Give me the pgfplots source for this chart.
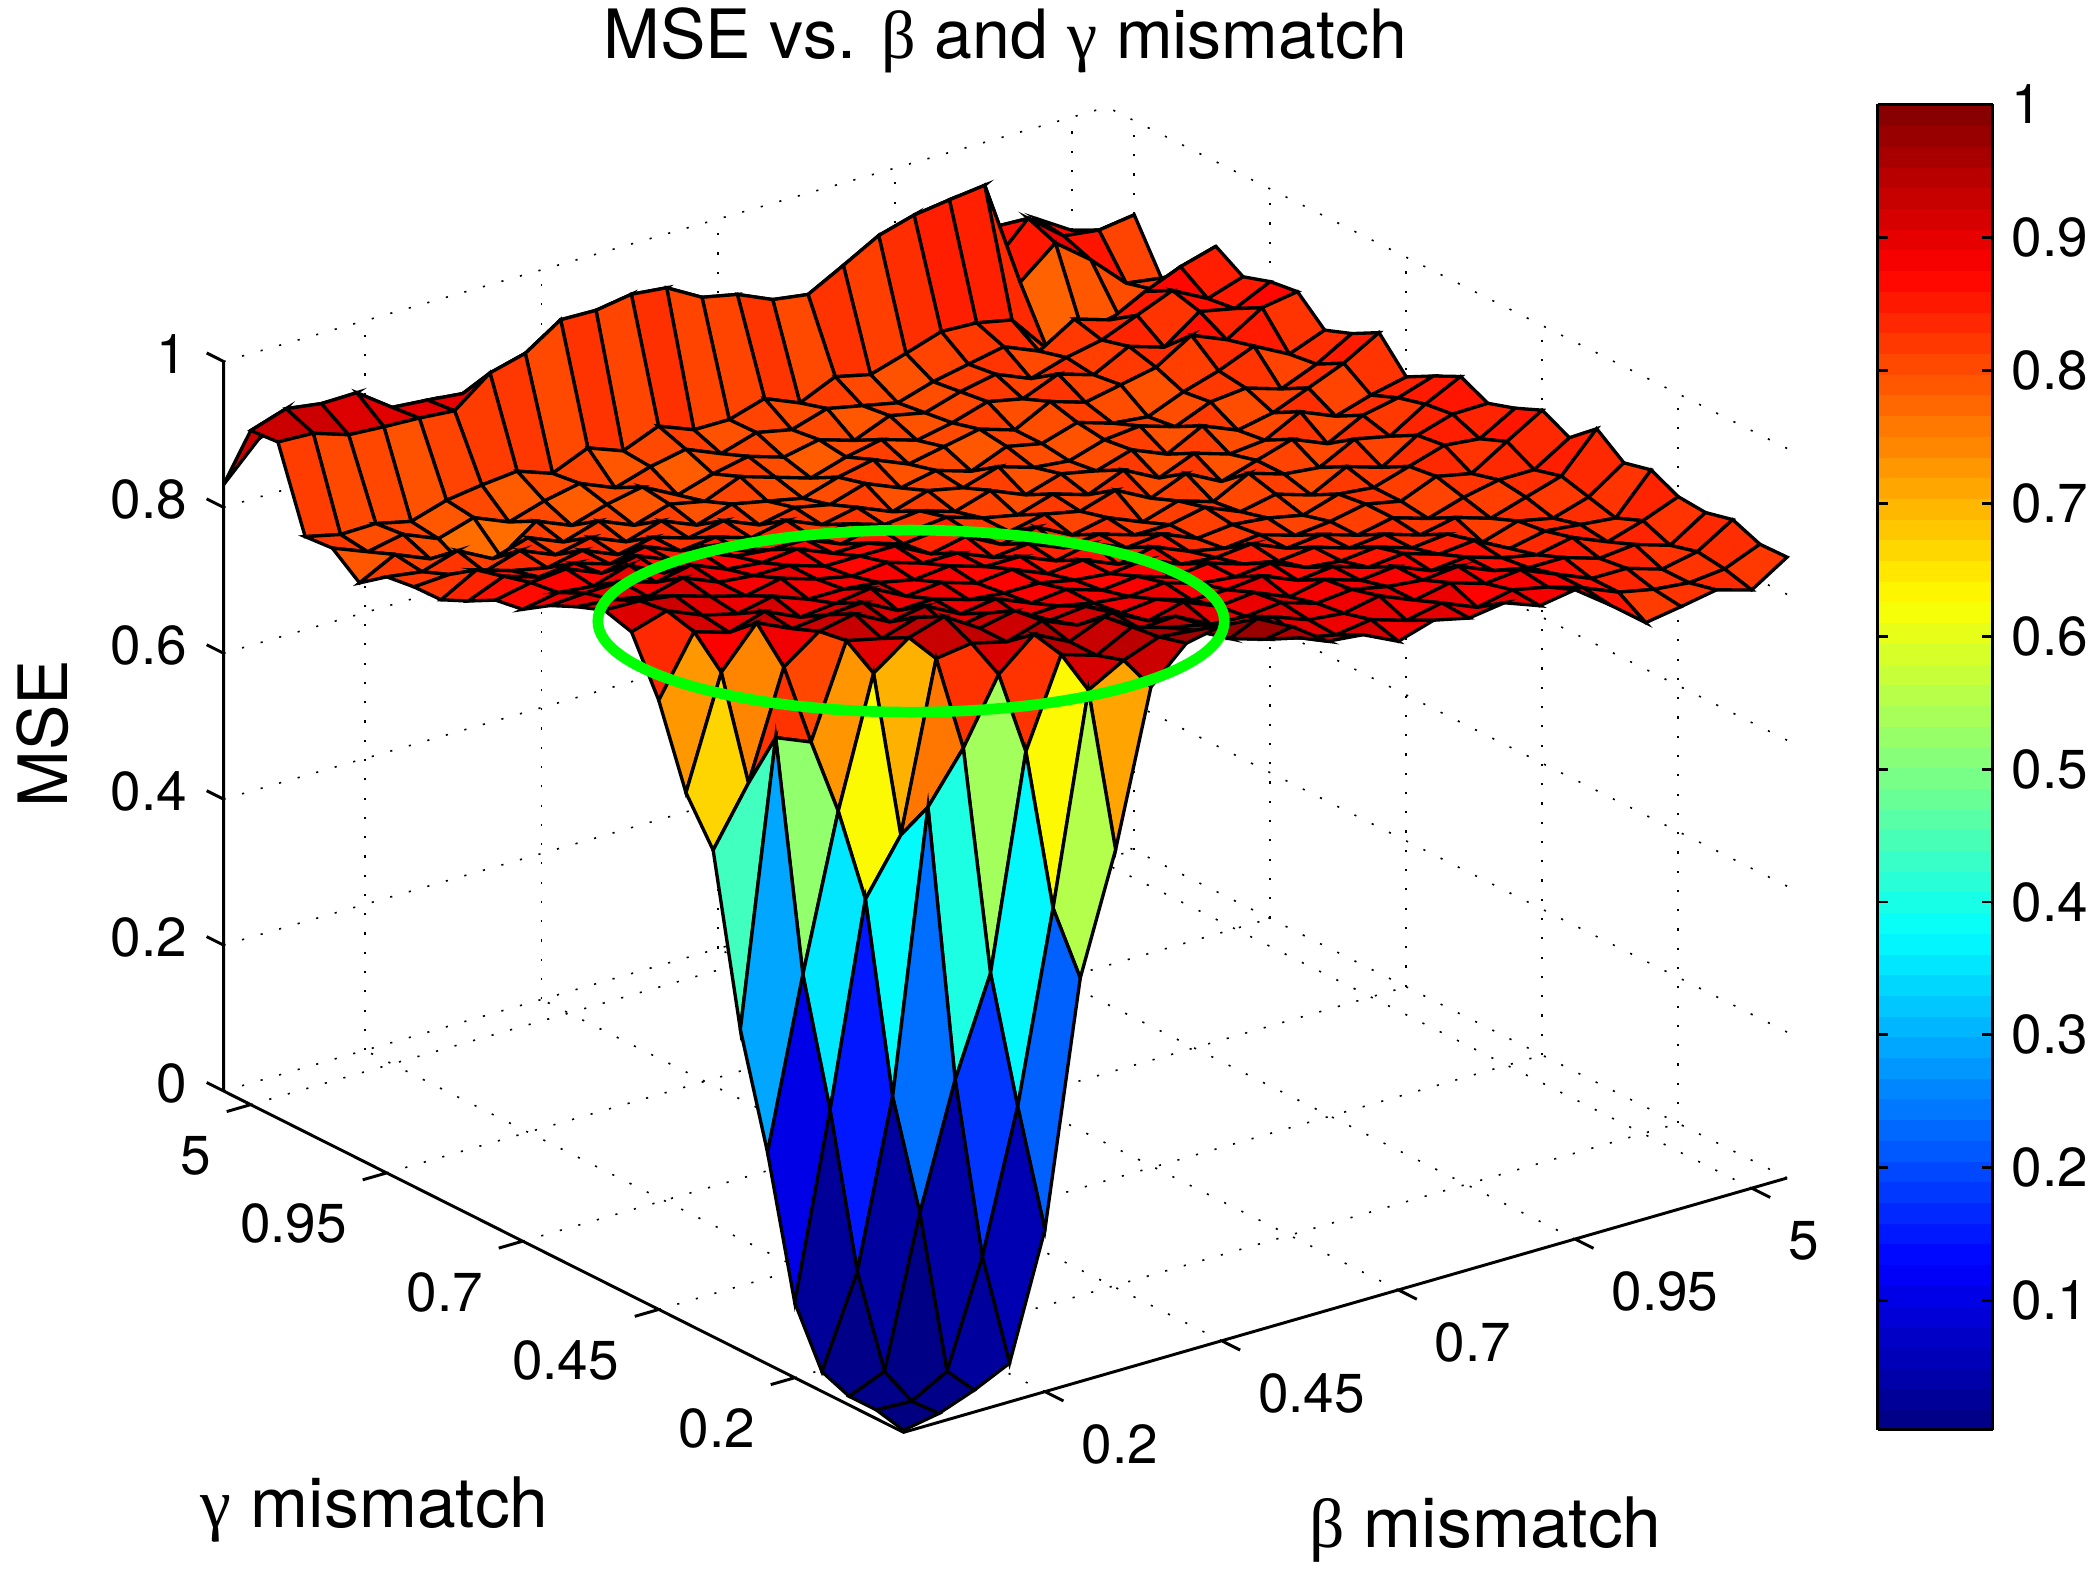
\documentclass[border=0pt]{standalone}
\usepackage{fontspec}
\usepackage{pgfplots}
\pgfplotsset{compat=1.18}
\setmainfont{TeX Gyre Heros}
\newfontfamily\gr{Liberation Serif}
\newcommand{\ticksize}{\fontsize{10.25}{12}\selectfont}
\newcommand{\titlesize}{\fontsize{12.7}{15}\selectfont}
\newcommand{\labsize}{\fontsize{13}{15}\selectfont}
\begin{document}
\begin{tikzpicture}
\path[use as bounding box] (-168.75pt,-27.5pt) rectangle (223.25pt,267.5pt);
\begin{axis}[
  at={(0pt,0pt)}, anchor=origin,
  x={(6.6pt,1.9pt)}, y={(-5.08pt,2.55pt)}, z={(0pt,136.25pt)},
  xmin=0, xmax=25, ymin=0, ymax=25, zmin=0, zmax=1,
  clip=false,
  axis line style={draw=none},
  xtick={4,9,14,19,24}, xticklabels={0.2,0.45,0.7,0.95,5},
  ytick={4,9,14,19,24}, yticklabels={0.2,0.45,0.7,0.95,5},
  ztick={0,0.2,0.4,0.6,0.8,1}, zticklabels={0,0.2,0.4,0.6,0.8,1},
  xtick pos=left, ytick pos=left, ztick pos=left,
  major tick length=0pt,
  tick style={draw=none},
  tick label style={font=\ticksize},
  xticklabel style={anchor=west, xshift=3.3pt, yshift=-9.85pt},
  yticklabel style={anchor=east, xshift=-3.9pt, yshift=-9.5pt},
  zticklabel style={anchor=east, xshift=-3.3pt, yshift=1.4pt},
  grid=major,
  grid style={black, line width=0.3pt, dash pattern=on 0.4pt off 3.2pt},
  title={MSE vs. {\gr β} and {\gr γ} mismatch},
  title style={at={(0.5,1.026)}, anchor=center, font=\titlesize},
  xlabel={{\gr β} mismatch},
  xlabel style={at={(0.807,-0.0737)}, anchor=center, font=\labsize},
  ylabel={{\gr γ} mismatch},
  ylabel style={at={(0.0967,-0.0585)}, anchor=center, font=\labsize, sloped=false},
  zlabel={MSE},
  zlabel style={at={(-0.1156,0.527)}, anchor=center, font=\titlesize, rotate=0},
  colormap/jet,
  colormap={mjet}{samples of colormap={64 of jet}},
  point meta min=0.003, point meta max=1,
  colorbar sampled,
  colorbar style={
    samples=65,
    at={(1.058,0.002)}, anchor=south west,
    scale only axis, width=21.5pt, height=247.5pt,
    ytick={0.1,0.2,0.3,0.4,0.5,0.6,0.7,0.8,0.9,1},
    yticklabels={0.1,0.2,0.3,0.4,0.5,0.6,0.7,0.8,0.9,1},
    ytick pos=both, yticklabel pos=right,
    tick align=inside, major tick length=2pt,
    tick style={draw=black, line width=0.55pt},
    axis line style={draw=black, line width=0.55pt},
    yticklabel style={font=\ticksize},
  },
]
% axis lines and outward ticks
\draw[black, line width=0.55pt] (axis cs:25,0,0) -- (axis cs:0,0,0) -- (axis cs:0,25,0) -- (axis cs:0,25,1)
  (axis cs:4,0,0) -- (axis cs:4,-0.68,0) (axis cs:9,0,0) -- (axis cs:9,-0.68,0) (axis cs:14,0,0) -- (axis cs:14,-0.68,0)
  (axis cs:19,0,0) -- (axis cs:19,-0.68,0) (axis cs:24,0,0) -- (axis cs:24,-0.68,0)
  (axis cs:0,4,0) -- (axis cs:-0.68,4,0) (axis cs:0,9,0) -- (axis cs:-0.68,9,0) (axis cs:0,14,0) -- (axis cs:-0.68,14,0)
  (axis cs:0,19,0) -- (axis cs:-0.68,19,0) (axis cs:0,24,0) -- (axis cs:-0.68,24,0)
  (axis cs:0,25,0) -- (axis cs:0,25.62,0) (axis cs:0,25,0.2) -- (axis cs:0,25.62,0.2) (axis cs:0,25,0.4) -- (axis cs:0,25.62,0.4)
  (axis cs:0,25,0.6) -- (axis cs:0,25.62,0.6) (axis cs:0,25,0.8) -- (axis cs:0,25.62,0.8) (axis cs:0,25,1) -- (axis cs:0,25.62,1);
\addplot3[surf, shader=flat corner, draw=black, line width=0.62pt, mesh/rows=26, mesh/cols=26]
  table[row sep=crcr, header=false, x expr={\coordindex-26*floor((\coordindex+0.5)/26)}, y expr={floor((\coordindex+0.5)/26)}, z index=0] {
0.003\\0.012\\0.03\\0.053\\0.222\\0.553\\0.715\\0.924\\0.97\\0.98\\0.976\\0.951\\0.917\\0.912\\0.889\\0.904\\0.893\\0.90\\0.882\\0.89\\0.855\\0.817\\0.825\\0.834\\0.82\\0.851\\
0.012\\0.01\\0.037\\0.18\\0.372\\0.63\\0.915\\0.942\\0.96\\0.955\\0.93\\0.915\\0.903\\0.893\\0.90\\0.885\\0.895\\0.875\\0.885\\0.875\\0.86\\0.84\\0.83\\0.825\\0.83\\0.85\\
0.012\\0.032\\0.235\\0.404\\0.536\\0.826\\0.945\\0.93\\0.955\\0.94\\0.93\\0.908\\0.913\\0.895\\0.89\\0.90\\0.88\\0.89\\0.875\\0.88\\0.86\\0.84\\0.84\\0.825\\0.835\\0.865\\
0.027\\0.15\\0.376\\0.759\\0.826\\0.913\\0.954\\0.93\\0.95\\0.92\\0.923\\0.898\\0.895\\0.90\\0.885\\0.89\\0.88\\0.875\\0.88\\0.86\\0.85\\0.85\\0.835\\0.84\\0.825\\0.856\\
0.103\\0.353\\0.628\\0.702\\0.93\\0.937\\0.925\\0.94\\0.92\\0.923\\0.898\\0.91\\0.89\\0.895\\0.875\\0.885\\0.87\\0.875\\0.855\\0.86\\0.845\\0.835\\0.845\\0.825\\0.84\\0.859\\
0.29\\0.52\\0.73\\0.905\\0.94\\0.955\\0.925\\0.935\\0.908\\0.913\\0.89\\0.895\\0.88\\0.88\\0.885\\0.865\\0.87\\0.855\\0.86\\0.845\\0.85\\0.825\\0.835\\0.83\\0.825\\0.877\\
0.44\\0.826\\0.806\\0.931\\0.92\\0.935\\0.905\\0.913\\0.893\\0.895\\0.885\\0.88\\0.885\\0.87\\0.865\\0.87\\0.85\\0.845\\0.85\\0.835\\0.84\\0.815\\0.83\\0.82\\0.835\\0.868\\
0.667\\0.745\\0.89\\0.925\\0.935\\0.91\\0.918\\0.893\\0.90\\0.88\\0.885\\0.87\\0.875\\0.86\\0.865\\0.85\\0.84\\0.845\\0.83\\0.835\\0.82\\0.83\\0.815\\0.83\\0.845\\0.896\\
0.727\\0.878\\0.932\\0.91\\0.915\\0.918\\0.893\\0.895\\0.88\\0.875\\0.875\\0.865\\0.86\\0.865\\0.845\\0.84\\0.845\\0.825\\0.83\\0.815\\0.825\\0.81\\0.825\\0.835\\0.835\\0.865\\
0.835\\0.915\\0.90\\0.915\\0.893\\0.898\\0.905\\0.88\\0.885\\0.87\\0.875\\0.855\\0.86\\0.84\\0.85\\0.83\\0.82\\0.825\\0.81\\0.815\\0.825\\0.815\\0.835\\0.825\\0.855\\0.884\\
0.91\\0.925\\0.905\\0.893\\0.903\\0.885\\0.885\\0.88\\0.87\\0.875\\0.86\\0.86\\0.84\\0.85\\0.83\\0.835\\0.815\\0.82\\0.815\\0.805\\0.82\\0.815\\0.83\\0.845\\0.84\\0.868\\
0.921\\0.92\\0.913\\0.898\\0.885\\0.895\\0.88\\0.87\\0.875\\0.86\\0.86\\0.84\\0.845\\0.825\\0.83\\0.815\\0.815\\0.825\\0.805\\0.815\\0.80\\0.825\\0.81\\0.84\\0.855\\0.856\\
0.907\\0.903\\0.893\\0.905\\0.885\\0.88\\0.88\\0.865\\0.865\\0.865\\0.84\\0.85\\0.825\\0.835\\0.81\\0.82\\0.80\\0.815\\0.80\\0.825\\0.81\\0.805\\0.83\\0.82\\0.85\\0.874\\
0.89\\0.893\\0.895\\0.88\\0.89\\0.87\\0.865\\0.87\\0.85\\0.85\\0.835\\0.84\\0.82\\0.81\\0.82\\0.81\\0.825\\0.80\\0.82\\0.795\\0.81\\0.825\\0.805\\0.83\\0.84\\0.856\\
0.866\\0.875\\0.87\\0.885\\0.86\\0.875\\0.855\\0.85\\0.85\\0.83\\0.84\\0.82\\0.825\\0.81\\0.80\\0.815\\0.80\\0.82\\0.795\\0.815\\0.80\\0.805\\0.83\\0.81\\0.825\\0.836\\
0.86\\0.87\\0.875\\0.855\\0.865\\0.845\\0.85\\0.83\\0.835\\0.82\\0.825\\0.81\\0.815\\0.80\\0.815\\0.795\\0.81\\0.80\\0.815\\0.795\\0.82\\0.80\\0.81\\0.83\\0.85\\0.878\\
0.84\\0.86\\0.845\\0.85\\0.835\\0.845\\0.825\\0.83\\0.815\\0.825\\0.805\\0.815\\0.795\\0.81\\0.80\\0.815\\0.80\\0.795\\0.81\\0.815\\0.80\\0.82\\0.825\\0.81\\0.83\\0.858\\
0.823\\0.85\\0.835\\0.825\\0.835\\0.815\\0.825\\0.81\\0.82\\0.80\\0.81\\0.80\\0.815\\0.795\\0.805\\0.79\\0.81\\0.80\\0.815\\0.80\\0.795\\0.815\\0.83\\0.85\\0.825\\0.844\\
0.822\\0.825\\0.815\\0.83\\0.81\\0.82\\0.80\\0.815\\0.795\\0.81\\0.80\\0.79\\0.805\\0.815\\0.795\\0.805\\0.815\\0.80\\0.825\\0.81\\0.82\\0.83\\0.86\\0.84\\0.87\\0.878\\
0.817\\0.81\\0.825\\0.80\\0.815\\0.795\\0.81\\0.79\\0.805\\0.795\\0.815\\0.80\\0.785\\0.80\\0.81\\0.795\\0.805\\0.82\\0.81\\0.83\\0.815\\0.84\\0.825\\0.86\\0.85\\0.873\\
0.79\\0.815\\0.795\\0.77\\0.77\\0.805\\0.785\\0.80\\0.81\\0.785\\0.80\\0.81\\0.795\\0.805\\0.79\\0.81\\0.80\\0.815\\0.825\\0.805\\0.82\\0.83\\0.85\\0.87\\0.845\\0.861\\
0.819\\0.80\\0.81\\0.79\\0.805\\0.785\\0.80\\0.81\\0.79\\0.805\\0.815\\0.795\\0.81\\0.80\\0.815\\0.805\\0.795\\0.81\\0.82\\0.83\\0.81\\0.84\\0.825\\0.85\\0.87\\0.884\\
0.816\\0.805\\0.806\\0.795\\0.81\\0.817\\0.822\\0.805\\0.826\\0.808\\0.828\\0.809\\0.809\\0.824\\0.804\\0.826\\0.815\\0.83\\0.846\\0.844\\0.834\\0.78\\0.79\\0.80\\0.82\\0.833\\
0.927\\0.925\\0.909\\0.906\\0.904\\0.90\\0.938\\0.951\\0.983\\0.982\\0.99\\0.985\\0.958\\0.948\\0.927\\0.92\\0.946\\0.973\\0.987\\0.994\\1.0\\0.853\\0.893\\0.856\\0.81\\0.803\\
0.924\\0.94\\0.933\\0.934\\0.90\\0.896\\0.891\\0.90\\0.92\\0.93\\0.93\\0.94\\0.91\\0.90\\0.88\\0.87\\0.89\\0.91\\0.93\\0.94\\0.95\\0.86\\0.908\\0.87\\0.864\\0.871\\
0.831\\0.88\\0.90\\0.89\\0.87\\0.86\\0.85\\0.85\\0.85\\0.87\\0.86\\0.87\\0.85\\0.84\\0.83\\0.84\\0.85\\0.86\\0.87\\0.88\\0.89\\0.87\\0.88\\0.875\\0.845\\0.831\\
};
\end{axis}
\draw[green, line width=2pt] (1.4pt,151.5pt) ellipse [x radius=58.5pt, y radius=17pt];
\end{tikzpicture}
\end{document}
